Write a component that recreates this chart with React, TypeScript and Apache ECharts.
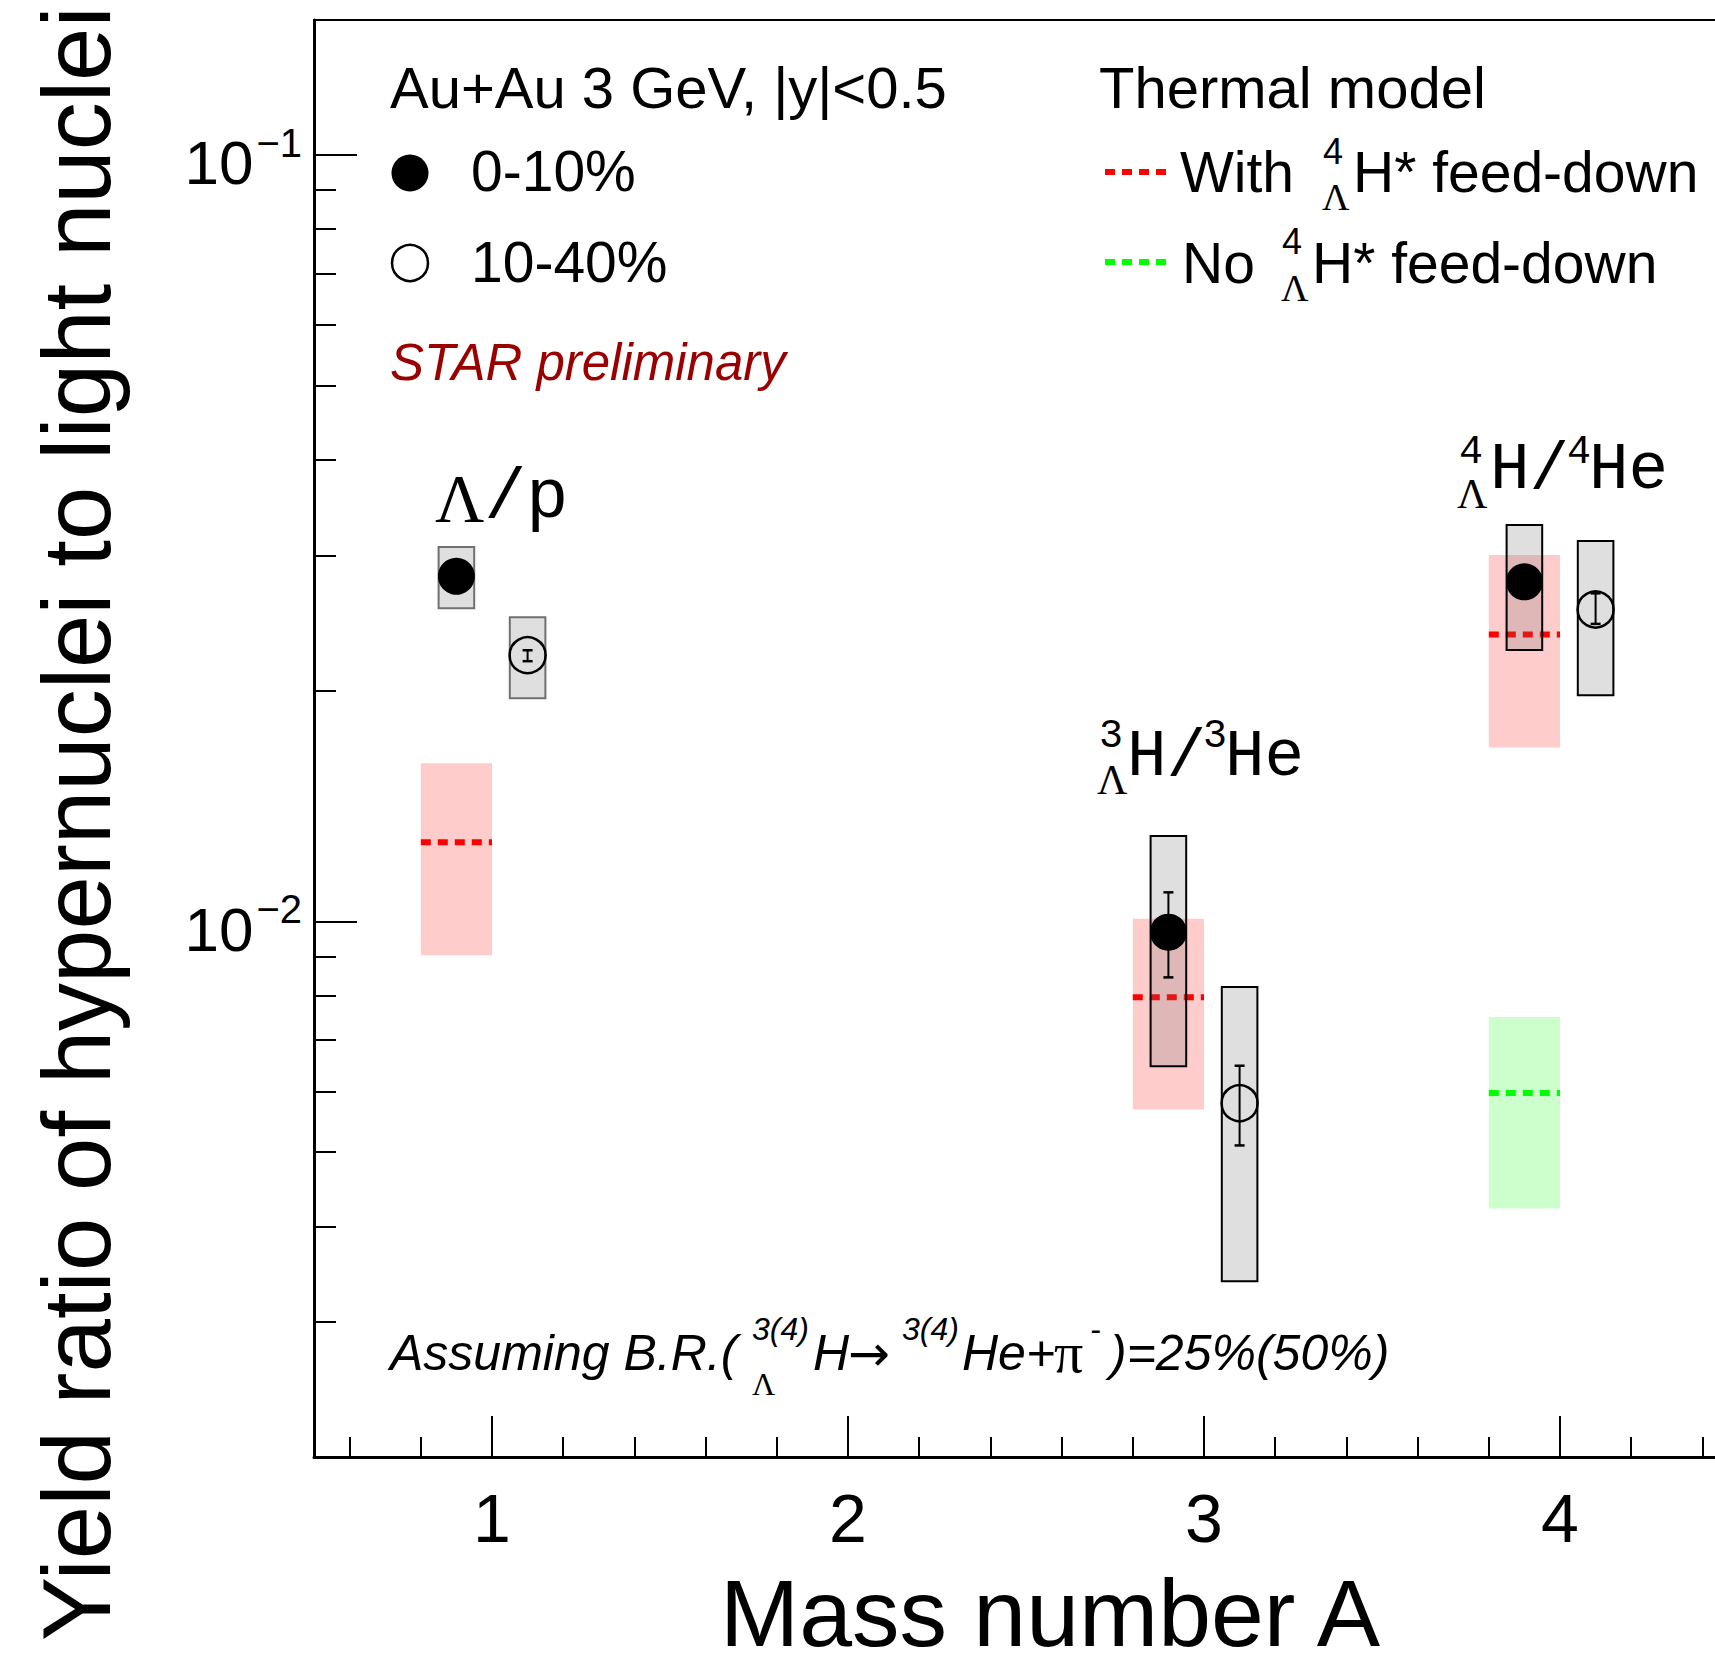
import React, { useEffect, useRef } from 'react';
import * as echarts from 'echarts';

const SANS = '"Liberation Sans", Arial, Helvetica, sans-serif';
const MONO = '"Liberation Mono", "Courier New", monospace';
const SERIF = '"Liberation Serif", "Times New Roman", serif';
const DEJAVU = '"DejaVu Sans", sans-serif';

// ---- data ----
const ratioLabels = ['Λ/p', '³ΛH/³He', '⁴ΛH/⁴He'];
const massNumbers = [1, 3, 4];

// 0-10% centrality (drawn slightly left of A)
const xCentral = [0.9, 2.9, 3.9];
const yCentral = [0.0282, 0.00968, 0.02773];
const sysLoCentral = [0.02562, 0.00647, 0.0226];
const sysHiCentral = [0.03079, 0.01292, 0.03289];
const statLoCentral: (number | null)[] = [null, 0.00845, null];
const statHiCentral: (number | null)[] = [null, 0.01091, null];

// 10-40% centrality (drawn slightly right of A)
const xPeripheral = [1.1, 3.1, 4.1];
const yPeripheral = [0.02225, 0.00579, 0.02552];
const sysLoPeripheral = [0.01954, 0.00339, 0.01972];
const sysHiPeripheral = [0.02493, 0.00821, 0.03136];
const statLoPeripheral = [0.02185, 0.0051, 0.02444];
const statHiPeripheral = [0.02258, 0.00648, 0.02679];

// thermal model, with 4ΛH* feed-down
const xModelWith = [0.9, 2.9, 3.9];
const modelWith = [0.01268, 0.00796, 0.02367];
const modelWithLo = [0.00903, 0.00568, 0.01686];
const modelWithHi = [0.01608, 0.01008, 0.03006];

// thermal model, no 4ΛH* feed-down
const xModelNo = [3.9];
const modelNo = [0.00597];
const modelNoLo = [0.00422];
const modelNoHi = [0.0075];

// axis ticks
const xMajorTicks = [1, 2, 3, 4];
const xMinorTicks = [0.6, 0.8, 1.2, 1.4, 1.6, 1.8, 2.2, 2.4, 2.6, 2.8, 3.2, 3.4, 3.6, 3.8, 4.2, 4.4];
const yMajorTicks = [0.01, 0.1];
const yMinorTicks = [0.003, 0.004, 0.005, 0.006, 0.007, 0.008, 0.009, 0.02, 0.03, 0.04, 0.05, 0.06, 0.07, 0.08, 0.09];

const X_MIN = 0.5;
const X_MAX = 4.5;
const Y_MIN = 0.002;
const Y_MAX = 0.15;

// half widths (data units)
const SYS_HALF = 0.05;
const BAND_HALF = 0.1;

function txt(text: string, x: number, y: number, fontSize: number, extra: any = {}) {
  return {
    type: 'text',
    x,
    y,
    silent: true,
    style: {
      text,
      fontSize,
      fontFamily: SANS,
      fill: '#000',
      align: 'left',
      verticalAlign: 'middle',
      ...extra,
    },
  };
}

function buildOption(): any {
  const sysRender = (params: any, api: any) => {
    const x = api.value(0);
    const lo = api.value(1);
    const hi = api.value(2);
    const p1 = api.coord([x - SYS_HALF, hi]);
    const p2 = api.coord([x + SYS_HALF, lo]);
    return {
      type: 'rect',
      shape: { x: p1[0], y: p1[1], width: p2[0] - p1[0], height: p2[1] - p1[1] },
      style: {
        fill: 'rgba(110,110,110,0.22)',
        stroke: params.dataIndex === 0 ? '#707070' : '#000',
        lineWidth: 2,
      },
    };
  };

  const statRender = (params: any, api: any) => {
    const x = api.value(0);
    const lo = api.value(1);
    const hi = api.value(2);
    const a = api.coord([x, hi]);
    const b = api.coord([x, lo]);
    const cap = 5;
    const st = { stroke: '#000', lineWidth: 2 };
    return {
      type: 'group',
      children: [
        { type: 'line', shape: { x1: a[0], y1: a[1], x2: b[0], y2: b[1] }, style: st },
        { type: 'line', shape: { x1: a[0] - cap, y1: a[1], x2: a[0] + cap, y2: a[1] }, style: { ...st, lineWidth: 2.5 } },
        { type: 'line', shape: { x1: b[0] - cap, y1: b[1], x2: b[0] + cap, y2: b[1] }, style: { ...st, lineWidth: 2.5 } },
      ],
    };
  };

  const bandRender = (fill: string, stroke: string) => (params: any, api: any) => {
    const x = api.value(0);
    const mid = api.value(1);
    const lo = api.value(2);
    const hi = api.value(3);
    const a = api.coord([x - BAND_HALF, hi]);
    const b = api.coord([x + BAND_HALF, lo]);
    const m1 = api.coord([x - BAND_HALF, mid]);
    const m2 = api.coord([x + BAND_HALF, mid]);
    return {
      type: 'group',
      children: [
        { type: 'rect', shape: { x: a[0], y: a[1], width: b[0] - a[0], height: b[1] - a[1] }, style: { fill } },
        {
          type: 'line',
          shape: { x1: m1[0], y1: m1[1], x2: m2[0], y2: m2[1] },
          style: { stroke, lineWidth: 6, lineDash: [10, 7] },
        },
      ],
    };
  };

  const statCentralData = xCentral
    .map((x, i) => [x, statLoCentral[i], statHiCentral[i]])
    .filter((d) => d[1] != null);
  const statPeripheralData = xPeripheral.map((x, i) => [x, statLoPeripheral[i], statHiPeripheral[i]]);

  const graphics: any[] = [
    // axis titles
    {
      type: 'text',
      x: 76,
      y: 1641,
      rotation: Math.PI / 2,
      silent: true,
      style: {
        text: 'Yield ratio of hypernuclei to light nuclei',
        fontSize: 96,
        lineHeight: 80,
        fontFamily: SANS,
        fill: '#000',
        align: 'left',
        verticalAlign: 'middle',
      },
    },
    txt('Mass number A', 720, 1613, 95, { lineHeight: 76 }),

    // legend header
    txt('Au+Au 3 GeV, |y|<0.5', 390, 87, 58),
    txt('Thermal model', 1099, 87, 58),
    { type: 'circle', silent: true, shape: { cx: 410, cy: 173, r: 18.5 }, style: { fill: '#000' } },
    txt('0-10%', 471, 171.3, 57),
    { type: 'circle', silent: true, shape: { cx: 410, cy: 263, r: 18 }, style: { fill: 'none', stroke: '#000', lineWidth: 2.5 } },
    txt('10-40%', 471, 262.3, 57),
    txt('STAR preliminary', 390, 362.3, 51, { fontStyle: 'italic', fill: '#990000' }),

    { type: 'line', silent: true, shape: { x1: 1105, y1: 172, x2: 1167, y2: 172 }, style: { stroke: '#ff0000', lineWidth: 6, lineDash: [10, 7] } },
    txt('With', 1180, 172.3, 57),
    txt('4', 1323, 151.2, 36),
    txt('Λ', 1322, 196.9, 38, { fontFamily: SERIF }),
    txt('H* feed-down', 1353, 172.3, 57),

    { type: 'line', silent: true, shape: { x1: 1105, y1: 262, x2: 1167, y2: 262 }, style: { stroke: '#00ff00', lineWidth: 6, lineDash: [10, 7] } },
    txt('No', 1182, 263.3, 57),
    txt('4', 1282, 241.2, 36),
    txt('Λ', 1281, 287.9, 38, { fontFamily: SERIF }),
    txt('H* feed-down', 1312, 263.3, 57),

    // ratio labels
    txt('{l|Λ}/p', 435, 498.3, 70, {
      fontFamily: MONO,
      rich: { l: { fontFamily: SERIF, fontSize: 68 } },
    }),

    txt('3', 1099, 736, 40, { fontFamily: MONO }),
    txt('Λ', 1097, 779.5, 42, { fontFamily: SERIF }),
    txt('H/', 1127, 757.4, 66, { fontFamily: MONO }),
    txt('3', 1203, 736, 40, { fontFamily: MONO }),
    txt('He', 1225, 757.4, 66, { fontFamily: MONO }),

    txt('4', 1459, 452, 40, { fontFamily: MONO }),
    txt('Λ', 1457, 493.5, 42, { fontFamily: SERIF }),
    txt('H/', 1490, 470.4, 66, { fontFamily: MONO }),
    txt('4', 1567, 452, 40, { fontFamily: MONO }),
    txt('He', 1589, 470.4, 66, { fontFamily: MONO }),

    // branching ratio note
    txt('Assuming B.R.(', 390, 1352.7, 50, { fontStyle: 'italic' }),
    txt('3(4)', 752, 1328.9, 32, { fontStyle: 'italic' }),
    txt('Λ', 752, 1384.2, 32, { fontFamily: SERIF }),
    txt('H', 813, 1352.7, 50, { fontStyle: 'italic' }),
    txt('→', 848, 1354, 50, { fontFamily: DEJAVU }),
    txt('3(4)', 902, 1328.9, 32, { fontStyle: 'italic' }),
    txt('He+', 962, 1352.7, 50, { fontStyle: 'italic' }),
    txt('π', 1054, 1352.7, 58, { fontFamily: SERIF }),
    txt('-', 1090, 1328.9, 32, { fontStyle: 'italic' }),
    txt(')=25%(50%)', 1110, 1352.7, 50, { fontStyle: 'italic' }),
  ];

  return {
    animation: false,
    backgroundColor: '#fff',
    grid: {
      left: 314,
      top: 20,
      width: 1424,
      height: 1437,
      show: true,
      borderColor: '#000',
      borderWidth: 2,
      containLabel: false,
      outerBoundsMode: 'none',
    },
    xAxis: [
      {
        type: 'value',
        min: X_MIN,
        max: X_MAX,
        position: 'bottom',
        axisLine: { show: true, onZero: false, lineStyle: { color: '#000', width: 3 } },
        axisTick: { show: true, inside: true, length: 41, customValues: xMajorTicks, lineStyle: { color: '#000', width: 2 } },
        axisLabel: {
          show: true,
          customValues: xMajorTicks,
          margin: 27,
          fontSize: 68,
          fontFamily: SANS,
          color: '#000',
          formatter: (v: number) => String(Math.round(v)),
        },
        splitLine: { show: false },
      },
      {
        type: 'value',
        min: X_MIN,
        max: X_MAX,
        position: 'bottom',
        axisLine: { show: false, onZero: false },
        axisTick: { show: true, inside: true, length: 20, customValues: xMinorTicks, lineStyle: { color: '#000', width: 2 } },
        axisLabel: { show: false },
        splitLine: { show: false },
      },
    ],
    yAxis: [
      {
        type: 'log',
        logBase: 10,
        min: Y_MIN,
        max: Y_MAX,
        position: 'left',
        axisLine: { show: true, onZero: false, lineStyle: { color: '#000', width: 3 } },
        axisTick: { show: true, inside: true, length: 43, customValues: yMajorTicks, lineStyle: { color: '#000', width: 2 } },
        axisLabel: {
          show: true,
          customValues: yMajorTicks,
          margin: 12,
          padding: [16, 0, 0, 0],
          color: '#000',
          fontFamily: SANS,
          fontSize: 62,
          formatter: (v: number) => {
            const e = Math.round(Math.log10(v));
            return '{b|10}{s|−' + String(-e) + '}';
          },
          rich: {
            b: { fontSize: 62, fontFamily: SANS, color: '#000', lineHeight: 80 },
            s: { fontSize: 40, fontFamily: SANS, color: '#000', lineHeight: 42, verticalAlign: 'top', padding: [0, 0, 0, 3] },
          },
        },
        splitLine: { show: false },
      },
      {
        type: 'log',
        logBase: 10,
        min: Y_MIN,
        max: Y_MAX,
        position: 'left',
        axisLine: { show: false, onZero: false },
        axisTick: { show: true, inside: true, length: 22, customValues: yMinorTicks, lineStyle: { color: '#000', width: 2 } },
        axisLabel: { show: false },
        splitLine: { show: false },
      },
    ],
    series: [
      {
        name: 'With ΛH* feed-down',
        type: 'custom',
        z: 1,
        silent: true,
        renderItem: bandRender('rgba(255,0,0,0.2)', '#ff0000'),
        data: xModelWith.map((x, i) => [x, modelWith[i], modelWithLo[i], modelWithHi[i]]),
      },
      {
        name: 'No ΛH* feed-down',
        type: 'custom',
        z: 1,
        silent: true,
        renderItem: bandRender('rgba(0,255,0,0.2)', '#00ff00'),
        data: xModelNo.map((x, i) => [x, modelNo[i], modelNoLo[i], modelNoHi[i]]),
      },
      {
        name: '0-10% sys.',
        type: 'custom',
        z: 3,
        silent: true,
        renderItem: sysRender,
        data: xCentral.map((x, i) => [x, sysLoCentral[i], sysHiCentral[i]]),
      },
      {
        name: '10-40% sys.',
        type: 'custom',
        z: 3,
        silent: true,
        renderItem: sysRender,
        data: xPeripheral.map((x, i) => [x, sysLoPeripheral[i], sysHiPeripheral[i]]),
      },
      {
        name: '0-10% stat.',
        type: 'custom',
        z: 4,
        silent: true,
        renderItem: statRender,
        data: statCentralData,
      },
      {
        name: '10-40% stat.',
        type: 'custom',
        z: 4,
        silent: true,
        renderItem: statRender,
        data: statPeripheralData,
      },
      {
        name: '0-10%',
        type: 'scatter',
        z: 5,
        silent: true,
        symbol: 'circle',
        symbolSize: 37,
        itemStyle: { color: '#000', opacity: 1 },
        data: xCentral.map((x, i) => [x, yCentral[i]]),
      },
      {
        name: '10-40%',
        type: 'scatter',
        z: 5,
        silent: true,
        symbol: 'circle',
        symbolSize: 36,
        itemStyle: { color: 'rgba(0,0,0,0)', borderColor: '#000', borderWidth: 2.5, opacity: 1 },
        data: xPeripheral.map((x, i) => [x, yPeripheral[i]]),
      },
    ],
    graphic: { elements: graphics },
  };
}

export default function App() {
  const ref = useRef<HTMLDivElement>(null);
  useEffect(() => {
    document.body.style.margin = '0';
    if (!ref.current) return;
    const chart = echarts.init(ref.current, null, { renderer: 'svg' });
    chart.setOption(buildOption());
    return () => {
      chart.dispose();
    };
  }, []);
  return <div ref={ref} style={{ width: 1715, height: 1668, background: '#fff' }} data-labels={ratioLabels.join(',')} data-mass={massNumbers.join(',')} />;
}
